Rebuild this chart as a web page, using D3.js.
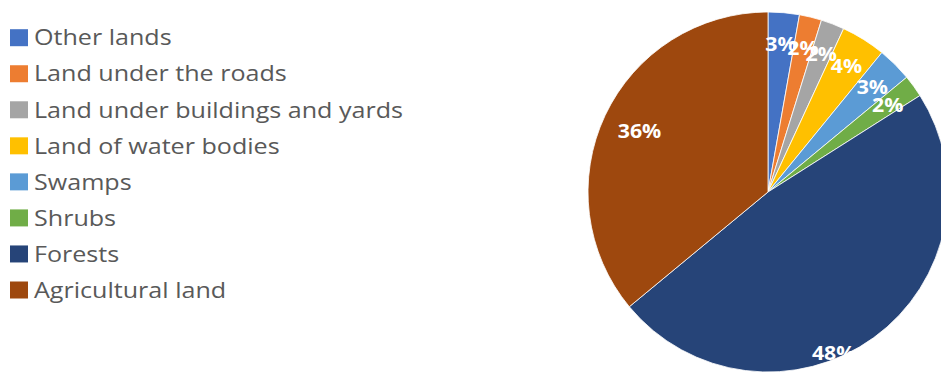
<!DOCTYPE html>
<html>
<head>
<meta charset="utf-8">
<script src="https://cdn.jsdelivr.net/npm/d3@7"></script>
<style>
  body { margin: 0; background: #fff; }
  svg { display: block; }
</style>
</head>
<body>
<svg width="941" height="374"></svg>
<script>
// land use shares (percent)
var categories = ["Other lands", "Land under the roads", "Land under buildings and yards",
  "Land of water bodies", "Swamps", "Shrubs", "Forests", "Agricultural land"];
var shares = [2.8, 2.0, 2.1, 4.0, 3.1, 2.0, 48.0, 36.0];
var colors = ["#4472C4", "#ED7D31", "#A5A5A5", "#FFC000", "#5B9BD5", "#70AD47", "#264478", "#9E480E"];

var data = categories.map(function(c, i) { return { name: c, value: shares[i] }; });

var svg = d3.select("svg");
var color = d3.scaleOrdinal().domain(categories).range(colors);

var cx = 768, cy = 192, R = 180;

var pie = d3.pie().sort(null).value(function(d) { return d.value; });
var arc = d3.arc().innerRadius(0).outerRadius(R);
var arcs = pie(data);

var g = svg.append("g").attr("transform", "translate(" + cx + "," + cy + ")");

g.selectAll("path")
    .data(arcs)
  .enter().append("path")
    .attr("d", arc)
    .attr("fill", function(d) { return color(d.data.name); })
    .attr("stroke", "#fff")
    .attr("stroke-width", 0.8);

// labels sit near the rim, the big forest one is pushed out towards the edge
var labelArc = d3.arc().innerRadius(148).outerRadius(148);
var total = d3.sum(shares);

var labels = g.selectAll("text")
    .data(arcs)
  .enter().append("text")
    .attr("transform", function(d) {
      var p;
      if (d.data.name === "Forests") {
        var a = d.startAngle + (d.endAngle - d.startAngle) * 0.58;
        p = [Math.sin(a) * 174, -Math.cos(a) * 174];
      } else if (d.data.name === "Agricultural land") {
        p = d3.arc().innerRadius(142).outerRadius(142).centroid(d);
      } else {
        p = labelArc.centroid(d);
      }
      return "translate(" + p[0] + "," + p[1] + ")";
    })
    .attr("text-anchor", "middle")
    .attr("dy", "0.36em")
    .attr("fill", "#fff")
    .style("font-family", "'Open Sans', sans-serif")
    .style("font-weight", "bold")
    .style("font-size", "19px")
    .text(function(d) { return Math.round(d.value / total * 100) + "%"; });

// the original font is wider than Open Sans, stretch a little
labels.attr("textLength", function() { return this.getComputedTextLength() * 1.12; })
    .attr("lengthAdjust", "spacingAndGlyphs");

// legend
var legend = svg.append("g").attr("transform", "translate(10,0)");
var rowY = d3.scalePoint().domain(categories).range([37.7, 290]);

var item = legend.selectAll("g")
    .data(categories)
  .enter().append("g")
    .attr("transform", function(d) { return "translate(0," + rowY(d) + ")"; });

item.append("rect")
    .attr("x", 0).attr("y", -8.5)
    .attr("width", 18).attr("height", 17)
    .attr("fill", function(d) { return color(d); });

var legendText = item.append("text")
    .attr("x", 24)
    .attr("dy", "0.36em")
    .attr("fill", "#595959")
    .style("font-family", "'Open Sans', sans-serif")
    .style("font-size", "21.5px")
    .text(function(d) { return d; });

var longest = d3.max(legendText.nodes(), function(n) { return n.getComputedTextLength(); });
var stretch = 369 / longest;
legendText.attr("textLength", function() { return this.getComputedTextLength() * stretch; })
    .attr("lengthAdjust", "spacingAndGlyphs");
</script>
</body>
</html>
